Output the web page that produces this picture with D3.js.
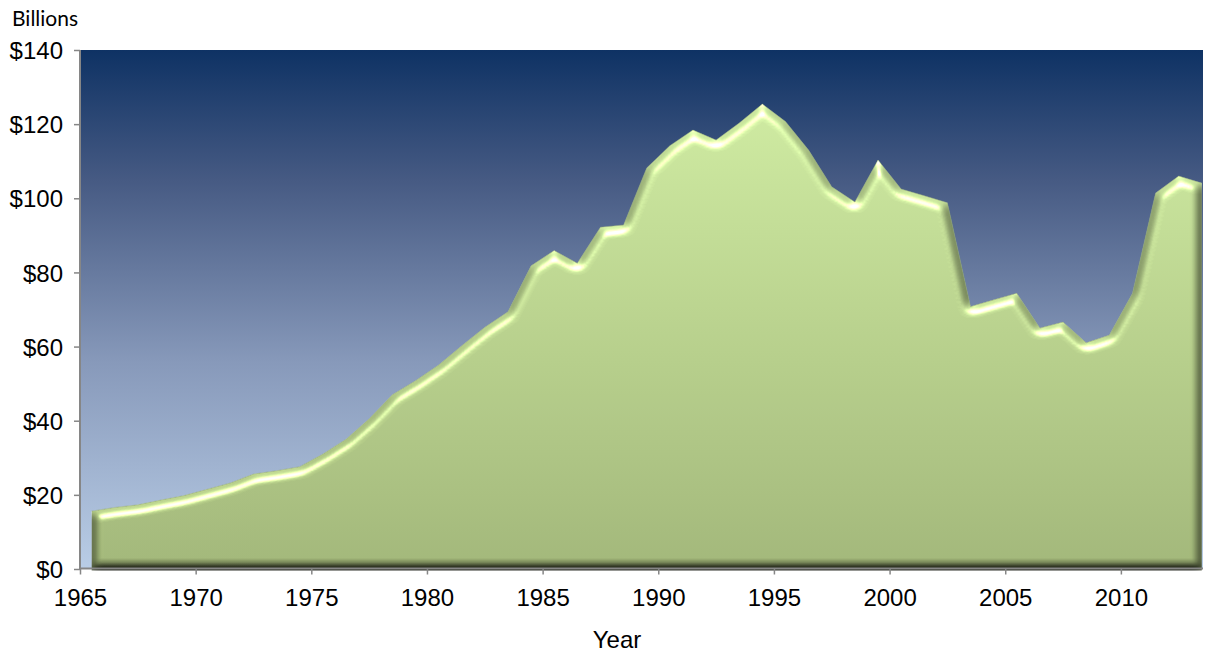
<!DOCTYPE html>
<html>
<head>
<meta charset="utf-8">
<script src="https://cdn.jsdelivr.net/npm/d3@7/dist/d3.min.js"></script>
<style>
  html, body { margin: 0; padding: 0; background: #ffffff; }
  svg { display: block; }
  .tick-label { font-family: "Liberation Sans", Arial, sans-serif; font-size: 24px; fill: #000; }
</style>
</head>
<body>
<svg id="chart" width="1207" height="654"></svg>
<script>
// Annual totals, billions of dollars
const years = [1965, 1966, 1967, 1968, 1969, 1970, 1971, 1972, 1973, 1974,
               1975, 1976, 1977, 1978, 1979, 1980, 1981, 1982, 1983, 1984,
               1985, 1986, 1987, 1988, 1989, 1990, 1991, 1992, 1993, 1994,
               1995, 1996, 1997, 1998, 1999, 2000, 2001, 2002, 2003, 2004,
               2005, 2006, 2007, 2008, 2009, 2010, 2011, 2012, 2013];
const values = [15.6, 16.6, 17.3, 18.6, 19.8, 21.5, 23.2, 25.6, 26.5, 27.6,
                31.0, 35.0, 40.5, 47.0, 50.8, 55.0, 60.2, 65.2, 69.4, 81.8,
                85.9, 82.5, 92.2, 92.8, 108.2, 114.2, 118.4, 115.7, 120.3, 125.4,
                120.7, 113.0, 103.1, 99.0, 110.3, 102.5, 100.7, 98.8, 70.8, 72.6,
                74.4, 65.0, 66.6, 61.0, 63.1, 74.4, 101.4, 106.0, 104.1];
const xTicks = [1965, 1970, 1975, 1980, 1985, 1990, 1995, 2000, 2005, 2010];
const yTicks = [0, 20, 40, 60, 80, 100, 120, 140];
const yAxisUnit = "Billions";
const xAxisTitle = "Year";

const data = years.map((y, i) => ({ year: y, value: values[i] }));

const svg = d3.select("#chart");
const plot = { left: 80, right: 1203, top: 50, bottom: 569 };

const x = d3.scaleLinear().domain([1965, 2013.55]).range([plot.left, plot.right]);
const y = d3.scaleLinear().domain([0, 140]).range([plot.bottom, plot.top]);

const defs = svg.append("defs");

// Plot background: deep navy at the top fading to pale blue
const bg = defs.append("linearGradient").attr("id", "bgGrad")
  .attr("x1", 0).attr("y1", 0).attr("x2", 0).attr("y2", 1);
[[0, "#0e3264"], [0.25, "#465a83"], [0.6, "#8799ba"], [1, "#b9cde6"]]
  .forEach(([o, c]) => bg.append("stop").attr("offset", o).attr("stop-color", c));

// Area fill: light green on top, olive green toward the baseline
const ag = defs.append("linearGradient").attr("id", "areaGrad")
  .attr("x1", 0).attr("y1", 0).attr("x2", 0).attr("y2", 1);
[[0, "#c4df99"], [1, "#98ac71"]]
  .forEach(([o, c]) => ag.append("stop").attr("offset", o).attr("stop-color", c));

// Bevel: shading and a soft specular highlight computed from a blurred alpha bump
const f = defs.append("filter").attr("id", "bevel")
  .attr("x", "-5%").attr("y", "-5%").attr("width", "110%").attr("height", "110%")
  .attr("color-interpolation-filters", "sRGB");
f.append("feMorphology").attr("in", "SourceAlpha").attr("operator", "erode").attr("radius", 1).attr("result", "inset");
f.append("feGaussianBlur").attr("in", "inset").attr("stdDeviation", 4).attr("result", "bump");
const diff = f.append("feDiffuseLighting").attr("in", "bump").attr("surfaceScale", 6.5)
  .attr("diffuseConstant", 1.15).attr("lighting-color", "#ffffff").attr("result", "diff");
diff.append("feDistantLight").attr("azimuth", 265).attr("elevation", 60);
const spec = f.append("feSpecularLighting").attr("in", "bump").attr("surfaceScale", 6.5)
  .attr("specularConstant", 0.75).attr("specularExponent", 22)
  .attr("lighting-color", "#e8fbb6").attr("result", "spec");
spec.append("feDistantLight").attr("azimuth", 265).attr("elevation", 35);
f.append("feComposite").attr("in", "spec").attr("in2", "SourceAlpha").attr("operator", "in").attr("result", "specIn");
f.append("feBlend").attr("in", "SourceGraphic").attr("in2", "diff").attr("mode", "multiply").attr("result", "shaded");
f.append("feComposite").attr("in", "shaded").attr("in2", "SourceAlpha").attr("operator", "in").attr("result", "shadedIn");
f.append("feComposite").attr("in", "shadedIn").attr("in2", "specIn").attr("operator", "arithmetic")
  .attr("k1", 0).attr("k2", 1).attr("k3", 1).attr("k4", 0);

// Plot area background
svg.append("rect")
  .attr("x", plot.left).attr("y", plot.top)
  .attr("width", plot.right - plot.left).attr("height", plot.bottom - plot.top)
  .attr("fill", "url(#bgGrad)");

// Values are plotted at mid-year
const px = d => x(d.year + 0.5);
const area = d3.area()
  .x(px)
  .y0(y(0) + 1.5)
  .y1(d => y(d.value));

svg.append("path")
  .datum(data)
  .attr("d", area)
  .attr("fill", "url(#areaGrad)")
  .attr("filter", "url(#bevel)");

// Faint rim along the top edge of the area
svg.append("path")
  .datum(data)
  .attr("d", d3.line().x(px).y(d => y(d.value)))
  .attr("fill", "none")
  .attr("stroke", "#8ea86a")
  .attr("stroke-width", 1)
  .attr("stroke-opacity", 0.45);

// Axes
const axisColor = "#868686";
const xAxis = svg.append("g").attr("transform", `translate(0,${plot.bottom - 0.5})`)
  .call(d3.axisBottom(x).tickValues(xTicks).tickFormat(d3.format("d")).tickSize(6).tickPadding(14));
const yAxis = svg.append("g").attr("transform", `translate(${plot.left},0)`)
  .call(d3.axisLeft(y).tickValues(yTicks).tickFormat(d => "$" + d).tickSize(6).tickPadding(11));

[xAxis, yAxis].forEach(g => {
  g.select(".domain").attr("stroke", axisColor).attr("stroke-width", 2);
  g.selectAll(".tick line").attr("stroke", axisColor).attr("stroke-width", 1.5);
  g.selectAll(".tick text").attr("class", "tick-label").attr("fill", "#000");
});
xAxis.select(".domain").attr("d", `M${plot.left},0H${plot.right}`);
yAxis.select(".domain").attr("d", `M0,${plot.top}V${plot.bottom}`);
yAxis.selectAll(".tick text").attr("dy", "0.36em");

// Axis titles
svg.append("text")
  .attr("x", 12).attr("y", 26)
  .style("font-family", "Lato, 'Open Sans', sans-serif")
  .style("font-size", "21px")
  .text(yAxisUnit);

svg.append("text")
  .attr("x", 617).attr("y", 648)
  .attr("text-anchor", "middle")
  .attr("class", "tick-label")
  .text(xAxisTitle);
</script>
</body>
</html>
